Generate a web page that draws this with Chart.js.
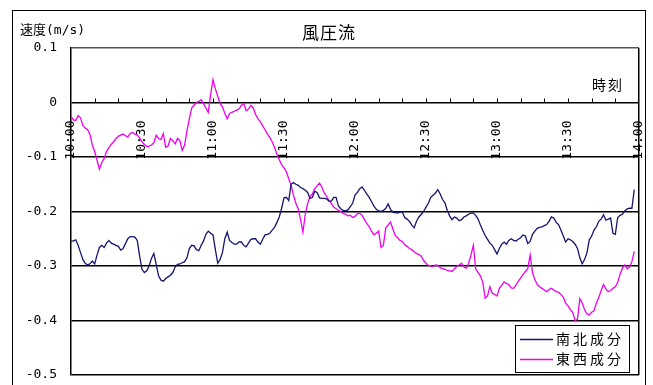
<!DOCTYPE html>
<html>
<head>
<meta charset="utf-8">
<script src="https://cdn.jsdelivr.net/npm/chart.js@4"></script>
<style>
  html, body { margin: 0; padding: 0; background: #fff; }
  canvas { display: block; }
</style>
</head>
<body>
<canvas id="chart" width="653" height="385"></canvas>
<script>
// Current velocity components, one sample per minute from 10:00 (m/s)
const SAMPLE_STEP = 1;
const northSouth = [
  -0.255, -0.254, -0.252, -0.262, -0.275, -0.288, -0.295, -0.298, -0.296, -0.291,
  -0.296, -0.280, -0.266, -0.262, -0.266, -0.258, -0.253, -0.258, -0.260, -0.262,
  -0.264, -0.271, -0.268, -0.259, -0.250, -0.246, -0.246, -0.247, -0.253, -0.282,
  -0.306, -0.312, -0.309, -0.300, -0.286, -0.277, -0.297, -0.318, -0.326, -0.328,
  -0.323, -0.320, -0.317, -0.312, -0.302, -0.297, -0.296, -0.294, -0.292, -0.285,
  -0.268, -0.262, -0.263, -0.270, -0.272, -0.262, -0.254, -0.242, -0.236, -0.240,
  -0.243, -0.270, -0.295, -0.288, -0.275, -0.250, -0.238, -0.253, -0.257, -0.260,
  -0.260, -0.256, -0.256, -0.262, -0.265, -0.258, -0.251, -0.250, -0.250, -0.256,
  -0.260, -0.251, -0.243, -0.242, -0.240, -0.234, -0.229, -0.220, -0.210, -0.194,
  -0.175, -0.174, -0.180, -0.150, -0.147, -0.150, -0.152, -0.156, -0.158, -0.161,
  -0.165, -0.176, -0.174, -0.163, -0.165, -0.175, -0.176, -0.176, -0.177, -0.181,
  -0.181, -0.174, -0.174, -0.190, -0.195, -0.198, -0.199, -0.197, -0.191, -0.185,
  -0.170, -0.165, -0.158, -0.155, -0.161, -0.168, -0.174, -0.182, -0.190, -0.196,
  -0.199, -0.200, -0.198, -0.194, -0.186, -0.196, -0.201, -0.202, -0.203, -0.201,
  -0.201, -0.211, -0.214, -0.218, -0.225, -0.230, -0.218, -0.210, -0.205, -0.200,
  -0.192, -0.185, -0.174, -0.170, -0.166, -0.160, -0.168, -0.178, -0.184, -0.198,
  -0.208, -0.215, -0.210, -0.212, -0.217, -0.215, -0.210, -0.208, -0.205, -0.203,
  -0.203, -0.207, -0.214, -0.225, -0.235, -0.244, -0.251, -0.258, -0.262, -0.270,
  -0.278, -0.268, -0.260, -0.256, -0.260, -0.253, -0.250, -0.253, -0.254, -0.251,
  -0.248, -0.243, -0.245, -0.259, -0.255, -0.242, -0.236, -0.231, -0.229, -0.228,
  -0.226, -0.224, -0.218, -0.210, -0.212, -0.220, -0.224, -0.234, -0.245, -0.256,
  -0.250, -0.252, -0.255, -0.260, -0.268, -0.285, -0.296, -0.288, -0.276, -0.252,
  -0.245, -0.234, -0.228, -0.218, -0.214, -0.206, -0.216, -0.214, -0.212, -0.240,
  -0.242, -0.211, -0.207, -0.205, -0.199, -0.195, -0.194, -0.194, -0.160
];
const eastWest = [
  -0.025, -0.032, -0.033, -0.024, -0.028, -0.042, -0.047, -0.050, -0.058, -0.078,
  -0.090, -0.106, -0.122, -0.110, -0.103, -0.090, -0.083, -0.077, -0.072, -0.066,
  -0.062, -0.060, -0.058, -0.061, -0.063, -0.057, -0.055, -0.058, -0.060, -0.065,
  -0.072, -0.077, -0.081, -0.080, -0.078, -0.074, -0.060, -0.066, -0.068, -0.057,
  -0.082, -0.080, -0.066, -0.070, -0.076, -0.066, -0.070, -0.088, -0.078, -0.052,
  -0.030, -0.010, -0.005, 0.000, 0.002, 0.005, -0.002, -0.010, -0.018, 0.015,
  0.042, 0.025, 0.012, -0.002, -0.008, -0.020, -0.030, -0.020, -0.018, -0.016,
  -0.014, -0.012, -0.005, -0.002, -0.015, -0.012, -0.005, -0.010, -0.022, -0.030,
  -0.035, -0.043, -0.050, -0.058, -0.064, -0.072, -0.082, -0.095, -0.105, -0.114,
  -0.120, -0.127, -0.140, -0.152, -0.170, -0.185, -0.195, -0.215, -0.238, -0.205,
  -0.185, -0.172, -0.168, -0.158, -0.153, -0.148, -0.155, -0.166, -0.172, -0.180,
  -0.185, -0.192, -0.195, -0.198, -0.200, -0.204, -0.205, -0.208, -0.207, -0.211,
  -0.209, -0.204, -0.203, -0.207, -0.215, -0.222, -0.228, -0.236, -0.243, -0.240,
  -0.236, -0.266, -0.262, -0.230, -0.225, -0.219, -0.232, -0.244, -0.248, -0.253,
  -0.255, -0.261, -0.264, -0.268, -0.270, -0.274, -0.277, -0.279, -0.282, -0.290,
  -0.295, -0.299, -0.300, -0.301, -0.298, -0.299, -0.303, -0.305, -0.306, -0.308,
  -0.309, -0.310, -0.305, -0.301, -0.298, -0.295, -0.302, -0.304, -0.295, -0.280,
  -0.262, -0.305, -0.312, -0.318, -0.330, -0.359, -0.355, -0.338, -0.350, -0.352,
  -0.355, -0.341, -0.335, -0.329, -0.332, -0.334, -0.340, -0.341, -0.335, -0.328,
  -0.322, -0.316, -0.310, -0.305, -0.280, -0.312, -0.325, -0.334, -0.338, -0.341,
  -0.344, -0.347, -0.343, -0.341, -0.344, -0.347, -0.348, -0.352, -0.357, -0.368,
  -0.373, -0.380, -0.385, -0.400, -0.398, -0.360, -0.368, -0.380, -0.388, -0.390,
  -0.385, -0.382, -0.368, -0.358, -0.345, -0.334, -0.342, -0.347, -0.345, -0.341,
  -0.338, -0.330, -0.315, -0.304, -0.298, -0.305, -0.302, -0.292, -0.273
];
const minutes = northSouth.map((_, i) => i * SAMPLE_STEP);

const xTickLabels = ['10:00', '10:30', '11:00', '11:30', '12:00', '12:30', '13:00', '13:30', '14:00'];
const yTickLabels = ['0.1', '0', '-0.1', '-0.2', '-0.3', '-0.4', '-0.5'];
const seriesNames = ['南北成分', '東西成分'];
const seriesColors = ['#14146e', '#f000f0'];

const CJK = '"Noto Sans CJK JP", "Noto Sans", sans-serif';
const MONO = '"DejaVu Sans Mono", "Noto Sans CJK JP", monospace';

// Frame, headings and legend box drawn around the plot
const decorations = {
  id: 'decorations',
  beforeDraw(chart) {
    const { ctx, width, height } = chart;
    ctx.save();
    ctx.fillStyle = '#fff';
    ctx.fillRect(0, 0, width, height);
    ctx.strokeStyle = '#000';
    ctx.lineWidth = 1;
    ctx.strokeRect(12.5, 10.5, 633, 400);
    ctx.restore();
  },
  afterDatasetsDraw(chart) {
    const { ctx } = chart;
    const xs = chart.scales.x, ys = chart.scales.y;
    const y0 = ys.getPixelForValue(0);
    ctx.save();
    // minor tick marks on the zero axis, every 10 minutes
    ctx.strokeStyle = '#000';
    ctx.lineWidth = 1;
    ctx.beginPath();
    for (let m = 10; m < 240; m += 10) {
      const px = Math.round(xs.getPixelForValue(m)) + 0.5;
      ctx.moveTo(px, y0 - 4);
      ctx.lineTo(px, y0);
    }
    ctx.stroke();

    ctx.fillStyle = '#000';
    ctx.textBaseline = 'middle';
    // chart title
    ctx.font = '17px ' + CJK;
    ctx.textAlign = 'center';
    ctx.letterSpacing = '1px';
    ctx.fillText('風圧流', 329, 33);
    // value axis title
    ctx.font = '13px ' + MONO;
    ctx.textAlign = 'left';
    ctx.letterSpacing = '0px';
    ctx.fillText('速度(m/s)', 20, 31);
    // time axis title
    ctx.font = '14px ' + CJK;
    ctx.letterSpacing = '2px';
    ctx.fillText('時刻', 592, 85);

    // legend
    const lx = 515.5, ly = 325.5, lw = 114, lh = 47;
    ctx.fillStyle = '#fff';
    ctx.fillRect(lx, ly, lw, lh);
    ctx.strokeStyle = '#000';
    ctx.lineWidth = 1;
    ctx.strokeRect(lx, ly, lw, lh);
    ctx.font = '14px ' + CJK;
    ctx.letterSpacing = '3px';
    chart.data.datasets.forEach((ds, i) => {
      const yy = 339 + i * 20;
      ctx.strokeStyle = ds.borderColor;
      ctx.lineWidth = 1.3;
      ctx.beginPath();
      ctx.moveTo(520, yy + 0.5);
      ctx.lineTo(553, yy + 0.5);
      ctx.stroke();
      ctx.fillStyle = '#000';
      ctx.fillText(ds.label, 556, yy);
    });
    ctx.restore();
  }
};

new Chart(document.getElementById('chart'), {
  type: 'line',
  data: {
    datasets: [
      {
        label: seriesNames[0],
        data: minutes.map((m, i) => ({ x: m, y: northSouth[i] })),
        borderColor: seriesColors[0],
        borderWidth: 1.3,
        pointRadius: 0,
        tension: 0,
        fill: false
      },
      {
        label: seriesNames[1],
        data: minutes.map((m, i) => ({ x: m, y: eastWest[i] })),
        borderColor: seriesColors[1],
        borderWidth: 1.3,
        pointRadius: 0,
        tension: 0,
        fill: false
      }
    ]
  },
  options: {
    responsive: false,
    animation: false,
    events: [],
    layout: { padding: { left: 0, top: 48, right: 14, bottom: 10 } },
    plugins: {
      legend: { display: false },
      title: { display: false },
      tooltip: { enabled: false }
    },
    scales: {
      x: {
        type: 'linear',
        min: 0,
        max: 240,
        position: { y: 0 },
        afterFit: (s) => { s.paddingLeft = 0; s.paddingRight = 0; s.paddingTop = 0; s.paddingBottom = 0; },
        border: { display: false },
        grid: {
          drawTicks: false,
          lineWidth: 1.5,
          color: (c) => (c.tick && c.tick.value === 240 ? '#000' : 'rgba(0,0,0,0)')
        },
        ticks: {
          stepSize: 10,
          autoSkip: false,
          minRotation: 90,
          maxRotation: 90,
          padding: 18,
          color: '#000',
          font: { family: MONO, size: 13 },
          callback: (v) => (v % 30 === 0 ? xTickLabels[v / 30] : '')
        }
      },
      y: {
        min: -0.5,
        max: 0.1,
        afterFit: (s) => { s.width = 71; s.paddingTop = 0; s.paddingBottom = 0; },
        border: { display: true, color: '#000', width: 1.5 },
        grid: {
          drawTicks: false,
          lineWidth: 1.5,
          color: (c) => (c.tick && c.tick.value > 0.05 ? '#555' : '#000')
        },
        ticks: {
          stepSize: 0.1,
          padding: 14,
          color: '#000',
          font: { family: MONO, size: 13 },
          callback: (v) => yTickLabels[Math.round((0.1 - v) * 10)]
        }
      }
    }
  },
  plugins: [decorations]
});
</script>
</body>
</html>
